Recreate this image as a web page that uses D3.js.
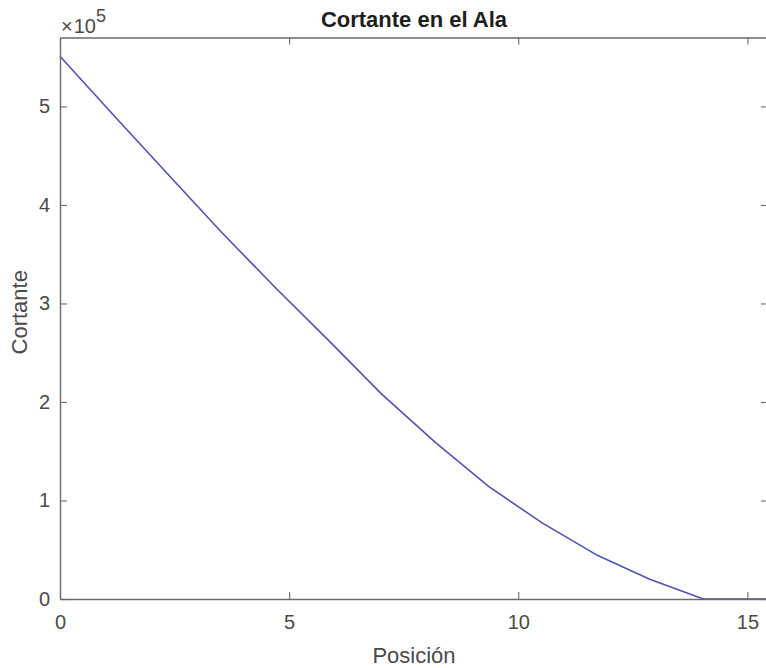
<!DOCTYPE html>
<html>
<head>
<meta charset="utf-8">
<script src="https://cdn.jsdelivr.net/npm/d3@7"></script>
<style>
  html, body { margin: 0; padding: 0; background: #ffffff; }
  svg { display: block; }
  text { font-family: "Liberation Sans", Arial, Helvetica, sans-serif; }
</style>
</head>
<body>
<svg id="chart" width="766" height="668"></svg>
<script>
// Shear distribution along the wing span
const posicion = [0, 1.17, 2.34, 3.51, 4.68, 5.85, 7.02, 8.19, 9.36, 10.53, 11.70, 12.87, 14.04, 15.21, 15.45];
const cortante = [551000, 491000, 432000, 373000, 317000, 263000, 208000, 159000, 114000, 77000, 45000, 20000, 0, 0, 0];

const xTicks = [0, 5, 10, 15];
const yTicks = [0, 100000, 200000, 300000, 400000, 500000];
const yExponent = 5;

const titleText = "Cortante en el Ala";
const xLabelText = "Posición";
const yLabelText = "Cortante";

const svg = d3.select("#chart");
const plotLeft = 60, plotRight = 768, plotTop = 37.5, plotBottom = 599;

const x = d3.scaleLinear().domain([0, 15.45]).range([plotLeft, plotRight]);
const y = d3.scaleLinear().domain([0, 570000]).range([plotBottom, plotTop]);

const axisColor = "#6a6a6a";
const textColor = "#4a4a4a";
const tickLen = 7;

// data line
const line = d3.line().x((d, i) => x(posicion[i])).y(d => y(d));
svg.append("path")
  .datum(cortante)
  .attr("d", line)
  .attr("fill", "none")
  .attr("stroke", "#5252b4")
  .attr("stroke-width", 1.6)
  .attr("stroke-linejoin", "round");

function styleAxis(g) {
  g.select(".domain").attr("stroke", axisColor).attr("stroke-width", 1.4);
  g.selectAll(".tick line").attr("stroke", axisColor).attr("stroke-width", 1.1);
  g.selectAll(".tick text").attr("fill", textColor).attr("font-size", 20)
    .attr("font-family", "Liberation Sans, Arial, sans-serif");
}

// bottom axis with labels, ticks pointing inward
svg.append("g")
  .attr("transform", `translate(0,${plotBottom})`)
  .call(d3.axisBottom(x).tickValues(xTicks).tickSizeInner(-tickLen).tickSizeOuter(0).tickPadding(10)
    .tickFormat(d3.format("d")))
  .call(styleAxis)
  .call(g => g.selectAll(".tick text").attr("dy", "1.0em"));

// top axis (box edge, ticks only)
svg.append("g")
  .attr("transform", `translate(0,${plotTop})`)
  .call(d3.axisTop(x).tickValues(xTicks).tickSizeInner(-tickLen).tickSizeOuter(0).tickFormat(""))
  .call(styleAxis);

// left axis, labels scaled by 10^5
svg.append("g")
  .attr("transform", `translate(${plotLeft},0)`)
  .call(d3.axisLeft(y).tickValues(yTicks).tickSizeInner(-tickLen).tickSizeOuter(0).tickPadding(10)
    .tickFormat(d => d3.format("d")(d / Math.pow(10, yExponent))))
  .call(styleAxis);

// right axis (box edge, ticks only)
svg.append("g")
  .attr("transform", `translate(${plotRight},0)`)
  .call(d3.axisRight(y).tickValues(yTicks).tickSizeInner(-tickLen).tickSizeOuter(0).tickFormat(""))
  .call(styleAxis);

// exponent marker
const expo = svg.append("text")
  .attr("x", 61).attr("y", 33)
  .attr("fill", textColor)
  .attr("font-size", 20);
expo.append("tspan").text("×");
expo.append("tspan").attr("dx", 1).text("10");
expo.append("tspan").attr("dy", -11).attr("font-size", 18).text(yExponent);

// title
svg.append("text")
  .attr("x", (plotLeft + plotRight) / 2).attr("y", 27)
  .attr("text-anchor", "middle")
  .attr("font-size", 22)
  .attr("font-weight", "bold")
  .attr("fill", "#1e1e1e")
  .text(titleText);

// axis labels
svg.append("text")
  .attr("x", (plotLeft + plotRight) / 2).attr("y", 663)
  .attr("text-anchor", "middle")
  .attr("font-size", 22)
  .attr("fill", textColor)
  .text(xLabelText);

svg.append("text")
  .attr("transform", `translate(27,${(plotTop + plotBottom) / 2 - 6}) rotate(-90)`)
  .attr("text-anchor", "middle")
  .attr("font-size", 22)
  .attr("fill", textColor)
  .text(yLabelText);
</script>
</body>
</html>
